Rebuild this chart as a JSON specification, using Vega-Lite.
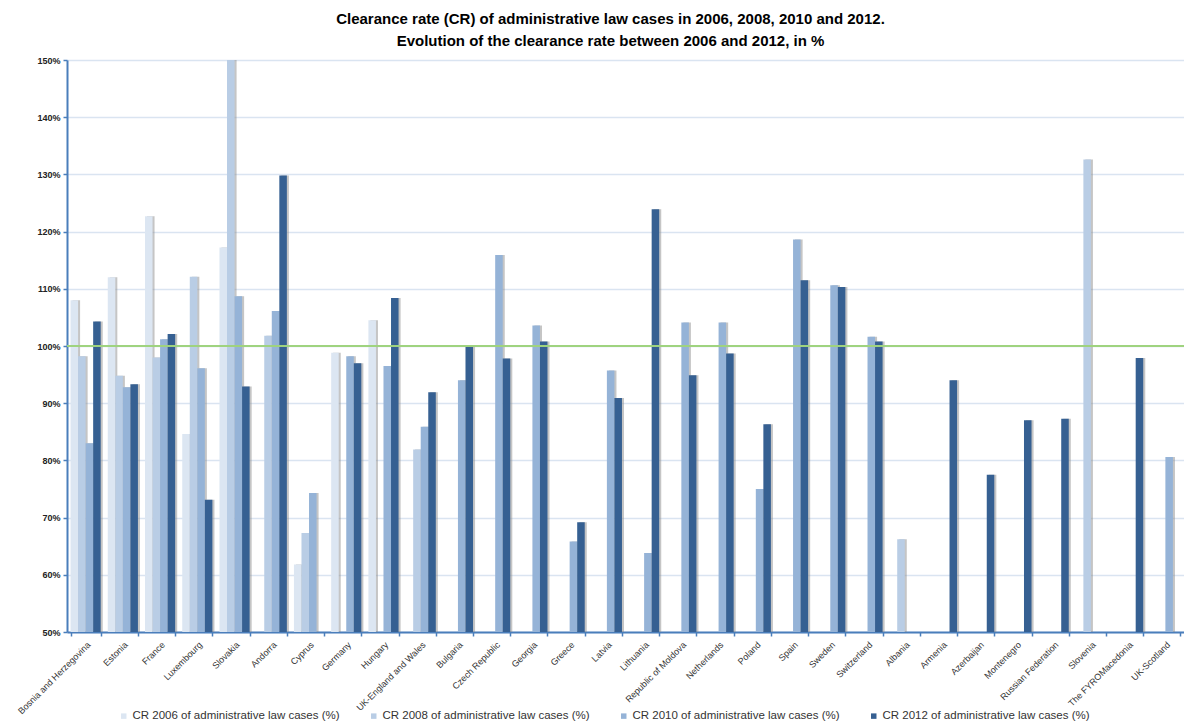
{
  "$schema": "https://vega.github.io/schema/vega-lite/v6.json",
  "autosize": {"type": "none"},
  "width": 1117,
  "height": 572,
  "padding": {"left": 67, "top": 60, "right": 0, "bottom": 90},
  "background": "white",
  "config": {
    "view": {"stroke": null},
    "font": "Liberation Sans"
  },
  "title": {
    "text": ["Clearance rate (CR) of administrative law cases in 2006, 2008, 2010 and 2012.", "Evolution of the clearance rate between 2006 and 2012, in %"],
    "font": "Liberation Sans",
    "fontSize": 15,
    "fontWeight": "bold",
    "color": "#000000",
    "anchor": "middle",
    "dx": -15,
    "offset": 7,
    "lineHeight": 22
  },
  "data": {
    "values": [
      {"country": "Bosnia and Herzegovina", "year": "2006", "cr": 108.0},
      {"country": "Bosnia and Herzegovina", "year": "2008", "cr": 98.2},
      {"country": "Bosnia and Herzegovina", "year": "2010", "cr": 83.0},
      {"country": "Bosnia and Herzegovina", "year": "2012", "cr": 104.3},
      {"country": "Estonia", "year": "2006", "cr": 112.0},
      {"country": "Estonia", "year": "2008", "cr": 94.8},
      {"country": "Estonia", "year": "2010", "cr": 92.8},
      {"country": "Estonia", "year": "2012", "cr": 93.3},
      {"country": "France", "year": "2006", "cr": 122.7},
      {"country": "France", "year": "2008", "cr": 98.0},
      {"country": "France", "year": "2010", "cr": 101.2},
      {"country": "France", "year": "2012", "cr": 102.1},
      {"country": "Luxembourg", "year": "2006", "cr": 84.6},
      {"country": "Luxembourg", "year": "2008", "cr": 112.1},
      {"country": "Luxembourg", "year": "2010", "cr": 96.1},
      {"country": "Luxembourg", "year": "2012", "cr": 73.1},
      {"country": "Slovakia", "year": "2006", "cr": 117.2},
      {"country": "Slovakia", "year": "2008", "cr": 160.0},
      {"country": "Slovakia", "year": "2010", "cr": 108.7},
      {"country": "Slovakia", "year": "2012", "cr": 92.9},
      {"country": "Andorra", "year": "2008", "cr": 101.8},
      {"country": "Andorra", "year": "2010", "cr": 106.1},
      {"country": "Andorra", "year": "2012", "cr": 129.8},
      {"country": "Cyprus", "year": "2006", "cr": 61.8},
      {"country": "Cyprus", "year": "2008", "cr": 67.3},
      {"country": "Cyprus", "year": "2010", "cr": 74.3},
      {"country": "Germany", "year": "2006", "cr": 98.8},
      {"country": "Germany", "year": "2010", "cr": 98.2},
      {"country": "Germany", "year": "2012", "cr": 97.0},
      {"country": "Hungary", "year": "2006", "cr": 104.5},
      {"country": "Hungary", "year": "2010", "cr": 96.5},
      {"country": "Hungary", "year": "2012", "cr": 108.4},
      {"country": "UK-England and Wales", "year": "2008", "cr": 81.9},
      {"country": "UK-England and Wales", "year": "2010", "cr": 85.9},
      {"country": "UK-England and Wales", "year": "2012", "cr": 91.9},
      {"country": "Bulgaria", "year": "2010", "cr": 94.0},
      {"country": "Bulgaria", "year": "2012", "cr": 99.9},
      {"country": "Czech Republic", "year": "2010", "cr": 115.9},
      {"country": "Czech Republic", "year": "2012", "cr": 97.8},
      {"country": "Georgia", "year": "2010", "cr": 103.6},
      {"country": "Georgia", "year": "2012", "cr": 100.8},
      {"country": "Greece", "year": "2010", "cr": 65.8},
      {"country": "Greece", "year": "2012", "cr": 69.2},
      {"country": "Latvia", "year": "2010", "cr": 95.7},
      {"country": "Latvia", "year": "2012", "cr": 90.9},
      {"country": "Lithuania", "year": "2010", "cr": 63.8},
      {"country": "Lithuania", "year": "2012", "cr": 123.9},
      {"country": "Republic of Moldova", "year": "2010", "cr": 104.1},
      {"country": "Republic of Moldova", "year": "2012", "cr": 94.9},
      {"country": "Netherlands", "year": "2010", "cr": 104.1},
      {"country": "Netherlands", "year": "2012", "cr": 98.7},
      {"country": "Poland", "year": "2010", "cr": 75.0},
      {"country": "Poland", "year": "2012", "cr": 86.3},
      {"country": "Spain", "year": "2010", "cr": 118.6},
      {"country": "Spain", "year": "2012", "cr": 111.5},
      {"country": "Sweden", "year": "2010", "cr": 110.6},
      {"country": "Sweden", "year": "2012", "cr": 110.3},
      {"country": "Switzerland", "year": "2010", "cr": 101.6},
      {"country": "Switzerland", "year": "2012", "cr": 100.8},
      {"country": "Albania", "year": "2008", "cr": 66.2},
      {"country": "Armenia", "year": "2012", "cr": 94.0},
      {"country": "Azerbaijan", "year": "2012", "cr": 77.5},
      {"country": "Montenegro", "year": "2012", "cr": 87.0},
      {"country": "Russian Federation", "year": "2012", "cr": 87.3},
      {"country": "Slovenia", "year": "2008", "cr": 132.6},
      {"country": "The FYROMacedonia", "year": "2012", "cr": 97.9},
      {"country": "UK-Scotland", "year": "2010", "cr": 80.6}
    ]
  },
  "encoding": {
    "x": {
      "field": "country",
      "type": "nominal",
      "sort": null,
      "title": null,
      "scale": {"paddingInner": 0.19, "paddingOuter": 0.095},
      "axis": {
        "labelAngle": -45,
        "labelFont": "Liberation Sans",
        "labelFontSize": 9,
        "labelColor": "#333333",
        "labelPadding": 4,
        "tickBand": "extent",
        "tickColor": "#4a7ebb",
        "tickSize": 4,
        "tickWidth": 1.5,
        "domainColor": "#4a7ebb",
        "domainWidth": 2,
        "grid": false
      }
    },
    "y": {
      "field": "cr",
      "type": "quantitative",
      "title": null,
      "scale": {"domain": [50, 150], "nice": false, "zero": false},
      "axis": {
        "values": [50, 60, 70, 80, 90, 100, 110, 120, 130, 140, 150],
        "labelExpr": "datum.value + '%'",
        "labelFont": "Liberation Sans",
        "labelFontSize": 9,
        "labelFontWeight": "bold",
        "labelColor": "#222222",
        "labelPadding": 3,
        "tickColor": "#4a7ebb",
        "tickSize": 4,
        "tickWidth": 1.5,
        "domainColor": "#4a7ebb",
        "domainWidth": 2,
        "gridColor": "#dae4f1",
        "gridWidth": 1.5
      }
    }
  },
  "layer": [
    {
      "mark": {"type": "bar", "color": "#8c8c8c", "opacity": 0.5, "clip": true},
      "encoding": {
        "xOffset": {
          "field": "year",
          "type": "nominal",
          "scale": {"domain": ["2006", "2008", "2010", "2012"], "range": [2, 32.2], "paddingInner": 0, "paddingOuter": 0}
        }
      }
    },
    {
      "mark": {"type": "bar", "clip": true},
      "encoding": {
        "xOffset": {
          "field": "year",
          "type": "nominal",
          "scale": {"domain": ["2006", "2008", "2010", "2012"], "paddingInner": 0, "paddingOuter": 0}
        },
        "color": {
          "field": "year",
          "type": "nominal",
          "scale": {"domain": ["2006", "2008", "2010", "2012"], "range": ["#dce6f2", "#b9cde5", "#95b3d7", "#366092"]},
          "legend": {
            "title": null,
            "orient": "none",
            "legendX": 51,
            "legendY": 650,
            "direction": "horizontal",
            "columns": 4,
            "columnPadding": 28,
            "symbolType": "square",
            "symbolSize": 30,
            "symbolStrokeWidth": 0,
            "labelOffset": 3,
            "labelFont": "Liberation Sans",
            "labelFontSize": 11.5,
            "labelColor": "#333333",
            "labelLimit": 300,
            "labelExpr": "'CR ' + datum.label + ' of administrative law cases (%)'"
          }
        }
      }
    },
    {
      "mark": {"type": "rule", "color": "#9fd27f", "strokeWidth": 2, "opacity": 0.85},
      "encoding": {"x": {"value": 0}, "x2": {"value": "width"}, "y": {"datum": 100}}
    }
  ],
  "resolve": {"scale": {"xOffset": "independent"}}
}
